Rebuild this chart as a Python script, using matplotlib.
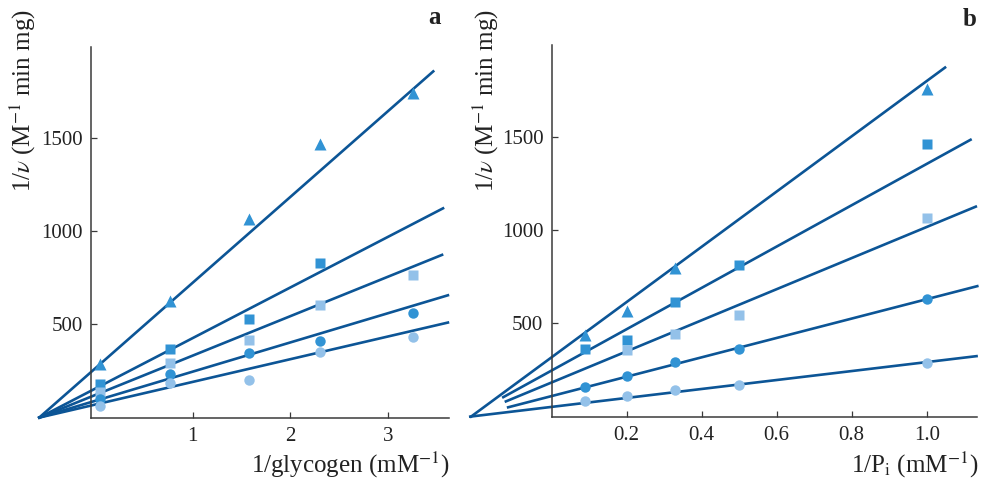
import matplotlib
matplotlib.use('Agg')
import matplotlib.pyplot as plt

plt.rcParams['font.family'] = ['Liberation Serif', 'DejaVu Serif']
plt.rcParams['mathtext.fontset'] = 'stix'

# panel a: 1/glycogen
glyc_x = [0.05, 0.77, 1.58, 2.30, 3.25]
glyc_tri = [285, 625, 1063, 1466, 1739]
glyc_sq_dark = [180, 367, 528, 827]
glyc_sq_light = [136, 294, 416, 604, 763]
glyc_dot_dark = [101, 233, 348, 410, 559]
glyc_dot_light = [62, 187, 200, 351, 430]
# fitted lines (slope, intercept, x range)
glyc_slope = [461, 272, 212, 157, 122]
glyc_icpt = [262, 154, 120, 89, 69]
glyc_xstart = [-0.568, -0.568, -0.568, -0.568, -0.568]
glyc_xend = [3.46, 3.56, 3.55, 3.61, 3.61]

# panel b: 1/Pi
pi_x = [0.09, 0.2, 0.33, 0.5, 1.0]
pi_tri_x = [0.09, 0.2, 0.33, 1.0]
pi_tri = [435, 565, 794, 1753]
pi_sq_dark = [360, 412, 613, 815, 1462]
pi_sq_light_x = [0.2, 0.33, 0.5, 1.0]
pi_sq_light = [355, 445, 543, 1063]
pi_dot_dark = [161, 215, 290, 364, 629]
pi_dot_light = [82, 108, 140, 170, 287]
pi_slope = [1480, 1107, 833, 519, 240]
pi_icpt = [318, 247, 183, 110, 52]
pi_xstart = [-0.215, -0.129, -0.122, -0.116, -0.217]
pi_xend = [1.049, 1.117, 1.131, 1.135, 1.133]

mid = '#3193d4'
light = '#93c1e9'
line_c = '#0c5596'
axis_c = '#3a3a3a'

fig = plt.figure(figsize=(9.87, 4.82), dpi=100)
ax1 = fig.add_axes([36.2 / 987, 0.1338, 412.7 / 987, 0.7734])
ax2 = fig.add_axes([465.4 / 987, 0.1357, 511.9 / 987, 0.7743])


def style(ax, x0, xmax, xticks, xlabels):
    ax.set_ylim(0, 2000)
    for s in ['top', 'right']:
        ax.spines[s].set_visible(False)
    ax.spines['left'].set_position(('data', x0))
    ax.spines['left'].set_bounds(0, 1990)
    ax.spines['bottom'].set_bounds(x0, xmax)
    for s in ['left', 'bottom']:
        ax.spines[s].set_color(axis_c)
        ax.spines[s].set_linewidth(1.1)
    ax.set_xticks(xticks)
    ax.set_xticklabels(xlabels)
    ax.set_yticks([500, 1000, 1500])
    ax.tick_params(direction='in', length=4.3, width=0.9, color=axis_c,
                   labelsize=15, labelcolor='#222222', pad=6)
    ax.tick_params(axis='x', pad=7)


def lines(ax, slope, icpt, xs, xe):
    for m, b, a, e in zip(slope, icpt, xs, xe):
        ax.plot([a, e], [m * a + b, m * e + b], color=line_c, lw=1.9,
                clip_on=False, zorder=2)


# panel a
ax1.set_xlim(-0.6, 3.62)
lines(ax1, glyc_slope, glyc_icpt, glyc_xstart, glyc_xend)
ax1.plot(glyc_x, glyc_tri, '^', color=mid, ms=8.5, mec='none', zorder=3, clip_on=False)
ax1.plot(glyc_x[:4], glyc_sq_dark, 's', color=mid, ms=7.5, mec='none', zorder=3, clip_on=False)
ax1.plot(glyc_x, glyc_sq_light, 's', color=light, ms=7.5, mec='none', zorder=3, clip_on=False)
ax1.plot(glyc_x, glyc_dot_dark, 'o', color=mid, ms=7.5, mec='none', zorder=3, clip_on=False)
ax1.plot(glyc_x, glyc_dot_light, 'o', color=light, ms=7.5, mec='none', zorder=3, clip_on=False)
style(ax1, -0.04, 3.62, [1, 2, 3], ['1', '2', '3'])

# panel b
ax2.set_xlim(-0.23, 1.135)
lines(ax2, pi_slope, pi_icpt, pi_xstart, pi_xend)
ax2.plot(pi_tri_x, pi_tri, '^', color=mid, ms=8.5, mec='none', zorder=3, clip_on=False)
ax2.plot(pi_x, pi_sq_dark, 's', color=mid, ms=7.5, mec='none', zorder=3, clip_on=False)
ax2.plot(pi_sq_light_x, pi_sq_light, 's', color=light, ms=7.5, mec='none', zorder=3, clip_on=False)
ax2.plot(pi_x, pi_dot_dark, 'o', color=mid, ms=7.5, mec='none', zorder=3, clip_on=False)
ax2.plot(pi_x, pi_dot_light, 'o', color=light, ms=7.5, mec='none', zorder=3, clip_on=False)
style(ax2, 0, 1.135, [0.2, 0.4, 0.6, 0.8, 1.0], ['0.2', '0.4', '0.6', '0.8', '1.0'])

ylab = r'1/$\nu$ (M$^{-1}$ min mg)'
fig.text(23 / 987, 1 - 101 / 482, ylab, rotation=90, ha='center', va='center',
         fontsize=18, color='#222222')
fig.text(486 / 987, 1 - 101 / 482, ylab, rotation=90, ha='center', va='center',
         fontsize=18, color='#222222')
fig.text(450 / 987, 1 - 465 / 482, r'1/glycogen (mM$^{-1}$)', ha='right', va='center',
         fontsize=18, color='#222222')
fig.text(978 / 987, 1 - 465 / 482, r'1/P$_\mathrm{i}$ (mM$^{-1}$)', ha='right', va='center',
         fontsize=18, color='#222222')
fig.text(435 / 987, 1 - 17 / 482, 'a', ha='center', va='center', fontsize=18,
         fontweight='bold', color='#222222')
fig.text(970 / 987, 1 - 19 / 482, 'b', ha='center', va='center', fontsize=18,
         fontweight='bold', color='#222222')

fig.savefig('out.png', dpi=100)
